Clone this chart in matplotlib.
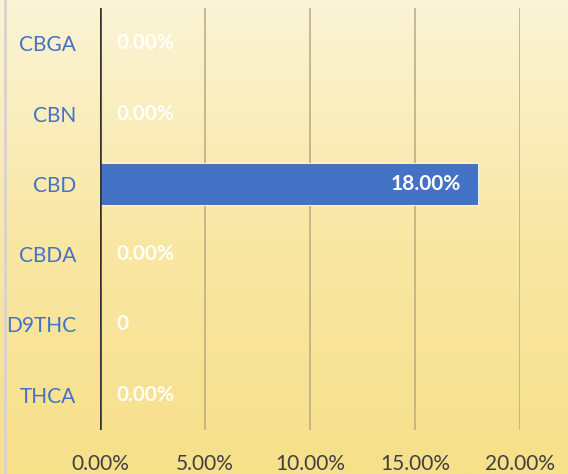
import matplotlib
matplotlib.use("Agg")
import matplotlib.pyplot as plt
import numpy as np
from matplotlib.colors import LinearSegmentedColormap

categories = ["CBGA", "CBN", "CBD", "CBDA", "D9THC", "THCA"]
values = [0.0, 0.0, 18.0, 0.0, 0.0, 0.0]
value_labels = ["0.00%", "0.00%", "18.00%", "0.00%", "0", "0.00%"]
xticks = [0, 5, 10, 15, 20]
xtick_labels = ["0.00%", "5.00%", "10.00%", "15.00%", "20.00%"]

plt.rcParams['font.family'] = ['Lato', 'DejaVu Sans']

fig = plt.figure(figsize=(5.68, 4.74), dpi=100)

# gradient background
bg = fig.add_axes([0, 0, 1, 1], zorder=0)
cmap = LinearSegmentedColormap.from_list("bg", ["#FBF4D6", "#F9E7A4", "#F7E08A"])
grad = np.linspace(0, 1, 256).reshape(-1, 1)
bg.imshow(grad, aspect="auto", cmap=cmap, extent=[0, 1, 0, 1], origin="upper")
bg.plot([0.009, 0.009], [0, 1], color="#D6D3CC", lw=2)
bg.set_xlim(0, 1); bg.set_ylim(0, 1)
bg.axis("off")

ax = fig.add_axes([0.176, 0.093, 0.739, 0.890], zorder=1)
ax.set_facecolor("none")
y = np.arange(len(categories))
ax.barh(y, values, height=0.6, color="#4472C4", edgecolor="#FFFFFF", linewidth=0.6, zorder=3)
ax.set_xlim(0, 20)
ax.set_ylim(len(categories) - 0.5, -0.5)
ax.set_xticks(xticks)
ax.set_xticklabels(xtick_labels, fontsize=15, color="#404040")
ax.set_yticks(y)
ax.set_yticklabels(categories, fontsize=15, color="#4472C4")
ax.tick_params(axis="x", length=0, pad=17)
ax.tick_params(axis="y", length=0, pad=17)
for s in ax.spines.values():
    s.set_visible(False)
for xv in xticks[1:]:
    ax.axvline(xv, color="#BDAE84", lw=1.2, zorder=1)
ax.axvline(0, color="#333333", lw=2.6, zorder=4)

for yi, v, lab in zip(y, values, value_labels):
    if v > 2:
        ax.text(v - 0.8, yi, lab, ha="right", va="center", color="white",
                fontsize=15, fontweight="bold", zorder=5)
    else:
        ax.text(v + 0.8, yi, lab, ha="left", va="center", color="white",
                fontsize=15, fontweight="bold", zorder=5)

fig.savefig("out.png", dpi=100)
